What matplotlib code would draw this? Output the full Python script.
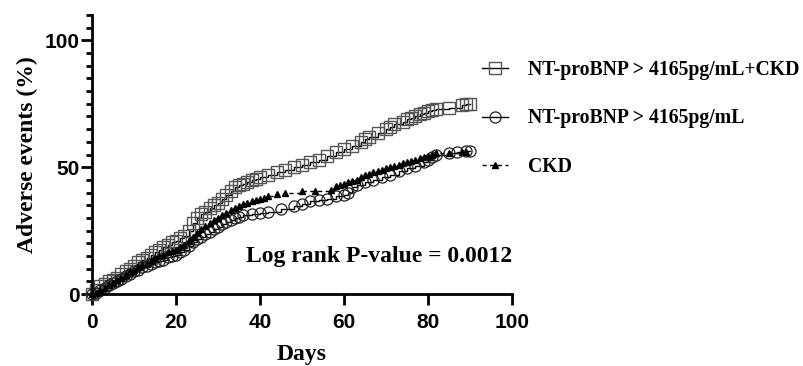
import matplotlib
matplotlib.use("Agg")
import matplotlib.pyplot as plt
from matplotlib.ticker import MultipleLocator

# Curvas de eventos adversos (dias, %)
days_combo = [0, 1, 2, 3, 4, 5, 6, 7, 8, 9, 10, 11, 12, 13, 14, 15, 16, 17, 18, 19,
              20, 21, 22, 23, 24, 25, 26, 27, 28, 29, 30, 31, 32, 33, 34, 35, 36, 37,
              38, 39, 40, 42, 44, 46, 48, 50, 52, 54, 56, 58, 60, 62, 64, 65, 66, 68,
              70, 71, 72, 74, 75, 76, 77, 78, 79, 80, 81, 82, 85, 88, 89, 90]
pct_combo = [0, 1.5, 3, 4, 5, 5.5, 6.5, 8, 9, 10, 11, 12.5, 13.5, 14, 15.5, 16.5, 17.5,
             18.5, 19.5, 20.5, 21, 22, 23, 25, 28, 30, 31.5, 32.5, 34, 35, 36, 37.5, 39,
             40.5, 42, 43, 43.5, 44, 45, 45.5, 46, 47, 48, 49, 50, 51, 52, 53, 54.5, 56,
             57, 58.5, 60, 61, 62, 63.5, 65, 66, 67, 68, 69, 69.5, 70, 71, 71.5, 72,
             72.5, 73, 73.5, 74.5, 75, 75]

days_bnp = [0, 1, 2, 3, 4, 5, 6, 7, 8, 9, 10, 11, 12, 13, 14, 15, 16, 17, 18, 19, 20,
            21, 22, 23, 24, 25, 26, 27, 28, 29, 30, 31, 32, 33, 34, 35, 36, 38, 40, 42,
            45, 48, 50, 52, 54, 56, 58, 60, 61, 62, 63, 65, 67, 69, 71, 73, 75, 77, 79,
            80, 81, 82, 85, 87, 89, 90]
pct_bnp = [0, 0.5, 1.5, 2.5, 3.5, 4.5, 5, 6, 7, 8, 9, 9.5, 10.5, 11, 12, 12.5, 13, 13.5,
           14.5, 15, 15.5, 16.5, 17.5, 19, 20.5, 21.5, 22.5, 23.5, 24.5, 25.5, 26.5,
           27.5, 28.5, 29, 30, 30.5, 31, 31.5, 32, 32.5, 33.5, 34.5, 35.5, 36.5, 37,
           37.5, 38.5, 39, 40, 42, 43, 44, 45, 46, 47, 48.5, 49.5, 50.5, 52, 53, 54, 55,
           55.5, 56, 56.5, 56.5]

days_ckd = [0, 1, 2, 3, 4, 5, 6, 7, 8, 9, 10, 11, 12, 13, 14, 15, 16, 17, 18, 19, 20,
            21, 22, 23, 24, 25, 26, 27, 28, 29, 30, 31, 32, 33, 34, 35, 36, 37, 38, 39,
            40, 41, 42, 44, 46, 50, 53, 57, 58, 59, 60, 61, 62, 63, 64, 65, 66, 67, 68,
            69, 70, 71, 72, 73, 74, 75, 76, 77, 78, 79, 80, 81, 82, 85, 88, 89]
pct_ckd = [0, 0.5, 1.5, 2.5, 3.5, 4.5, 5.5, 6.5, 7.5, 8.5, 9.5, 10.5, 11.5, 12, 13, 14,
           15, 15.5, 16.5, 17, 17.5, 18.5, 19.5, 21, 22.5, 24, 25.5, 27, 28, 29, 30, 31,
           32, 33, 34, 34.5, 35.5, 36, 36.5, 37, 37.5, 38, 38.5, 39.5, 40, 40.5, 40.5,
           41, 42.5, 43, 43.5, 44, 44.5, 45, 46, 47, 47.5, 48, 48.5, 49, 49.5, 50, 50.5,
           51, 51.5, 52, 52.5, 53, 53.5, 54, 54.5, 55, 55.5, 55.5, 56, 56]

labels = ["NT-proBNP > 4165pg/mL+CKD", "NT-proBNP > 4165pg/mL", "CKD"]

serif = "Liberation Serif"
sans = "Liberation Sans"

fig = plt.figure(figsize=(8.04, 3.66), dpi=100)
ax = fig.add_axes([92 / 804, 1 - 294 / 366, 420 / 804, 279 / 366])

ax.plot(days_combo, pct_combo, drawstyle="steps-post", color="black", linewidth=1,
        marker="s", markersize=8, markerfacecolor="none", markeredgecolor="#555555",
        markeredgewidth=1, clip_on=False, label=labels[0])
ax.plot(days_bnp, pct_bnp, drawstyle="steps-post", color="black", linewidth=1,
        marker="o", markersize=8, markerfacecolor="none", markeredgecolor="#222222",
        markeredgewidth=0.9, clip_on=False, label=labels[1])
ax.plot(days_ckd, pct_ckd, drawstyle="steps-post", color="black", linewidth=1,
        linestyle=(0, (3, 2.5)), marker="^", markersize=4, markerfacecolor="black",
        markeredgecolor="black", clip_on=False, label=labels[2])

ax.set_xlim(0, 100)
ax.set_ylim(0, 110)
ax.xaxis.set_major_locator(MultipleLocator(20))
ax.yaxis.set_minor_locator(MultipleLocator(5))
ax.set_yticks([0, 50, 100])

ax.spines["top"].set_visible(False)
ax.spines["right"].set_visible(False)
ax.spines["left"].set_linewidth(2)
ax.spines["bottom"].set_linewidth(2)
ax.tick_params(which="major", direction="out", length=8, width=2)
ax.tick_params(which="minor", direction="out", length=4.5, width=2)
ax.tick_params(axis="both", labelsize=15)
ax.tick_params(axis="x", pad=6)
ax.tick_params(axis="y", pad=1)
for t in ax.get_xticklabels() + ax.get_yticklabels():
    t.set_fontfamily(sans)
    t.set_fontweight("bold")

ax.set_ylabel("Adverse events (%)", fontfamily=serif, fontweight="bold", fontsize=17,
              labelpad=5)
ax.set_xlabel("Days", fontfamily=serif, fontweight="bold", fontsize=17, labelpad=8)

ax.text(100, 14.6, "Log rank P-value = 0.0012", ha="right", va="center",
        fontfamily=serif, fontweight="bold", fontsize=17)

leg = fig.legend(loc="upper left", bbox_to_anchor=(472 / 804, 1 - 50 / 366),
                 frameon=False, borderpad=0, handlelength=1.35, handletextpad=1.0,
                 labelspacing=1.45, prop={"family": serif, "weight": "bold", "size": 14.2})

plt.savefig("out.png", dpi=100)
